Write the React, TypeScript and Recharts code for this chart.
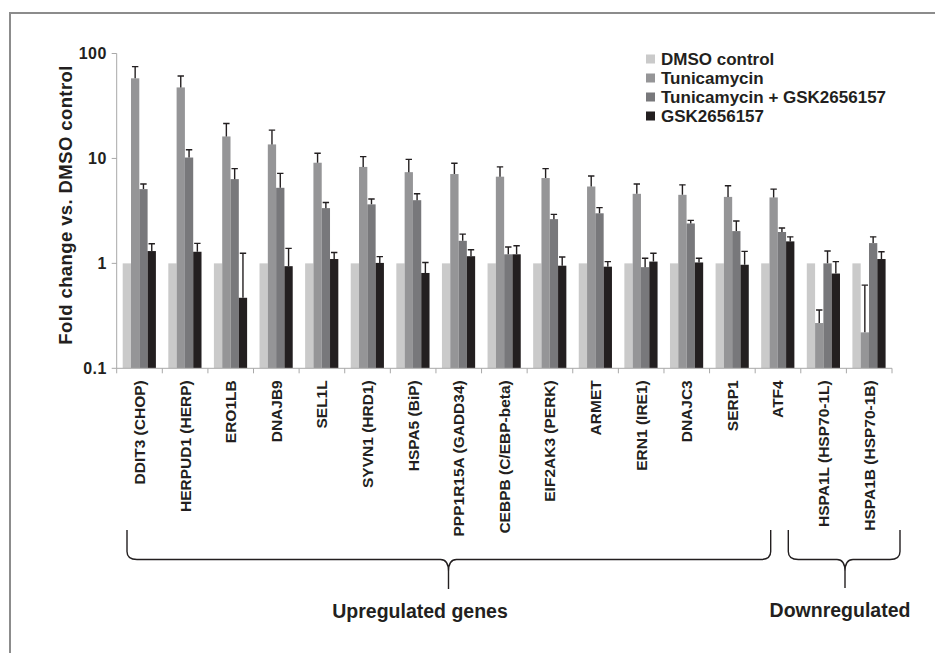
import React from "react";
import { BarChart, Bar, XAxis, YAxis, Customized } from "recharts";

const genes = [
  "DDIT3 (CHOP)",
  "HERPUD1 (HERP)",
  "ERO1LB",
  "DNAJB9",
  "SEL1L",
  "SYVN1 (HRD1)",
  "HSPA5 (BiP)",
  "PPP1R15A (GADD34)",
  "CEBPB (C/EBP-beta)",
  "EIF2AK3 (PERK)",
  "ARMET",
  "ERN1 (IRE1)",
  "DNAJC3",
  "SERP1",
  "ATF4",
  "HSPA1L (HSP70-1L)",
  "HSPA1B (HSP70-1B)",
];

const dmso = [1, 1, 1, 1, 1, 1, 1, 1, 1, 1, 1, 1, 1, 1, 1, 1, 1];
const tunicamycin = [58, 47.5, 16.2, 13.6, 9.1, 8.3, 7.4, 7.1, 6.7, 6.5, 5.4, 4.6, 4.5, 4.3, 4.25, 0.27, 0.22];
const tunicamycinTop = [75, 61, 21.5, 18.6, 11.2, 10.4, 9.8, 9.0, 8.3, 8.0, 6.8, 5.7, 5.6, 5.5, 5.1, 0.36, 0.62];
const tunGsk = [5.1, 10.2, 6.35, 5.25, 3.36, 3.65, 4.0, 1.64, 1.22, 2.64, 3.0, 0.92, 2.4, 2.03, 1.99, 1.0, 1.56];
const tunGskTop = [5.7, 12.1, 8.0, 7.2, 3.8, 4.1, 4.6, 1.9, 1.43, 2.93, 3.4, 1.12, 2.57, 2.53, 2.17, 1.31, 1.79];
const gsk = [1.31, 1.29, 0.47, 0.94, 1.1, 1.01, 0.81, 1.17, 1.22, 0.95, 0.93, 1.04, 1.02, 0.97, 1.62, 0.8, 1.1];
const gskTop = [1.54, 1.55, 1.25, 1.39, 1.27, 1.16, 1.02, 1.35, 1.47, 1.15, 1.04, 1.25, 1.12, 1.3, 1.79, 1.04, 1.29];

const yTicks = [0.1, 1, 10, 100];

const series = [
  { key: "dmso", err: null, name: "DMSO control", color: "#cacaca" },
  { key: "tun", err: "tunErr", name: "Tunicamycin", color: "#959597" },
  { key: "tunGsk", err: "tunGskErr", name: "Tunicamycin + GSK2656157", color: "#78787b" },
  { key: "gsk", err: "gskErr", name: "GSK2656157", color: "#231f20" },
];

const data = genes.map((name, i) => ({
  name,
  dmso: dmso[i],
  tun: tunicamycin[i],
  tunErr: tunicamycinTop[i],
  tunGsk: tunGsk[i],
  tunGskErr: tunGskTop[i],
  gsk: gsk[i],
  gskErr: gskTop[i],
}));

const FONT = "'Liberation Sans', Arial, Helvetica, sans-serif";
const INK = "#231f20";
const AXIS = "#a8a8a8";
const W = 935;
const H = 653;
const PLOT_LEFT = 116.7;
const PLOT_RIGHT = 892;
const PLOT_TOP = 53.5;
const PLOT_BOTTOM = 368.3;
const BAND = (PLOT_RIGHT - PLOT_LEFT) / genes.length;
const Y_MIN = 0.1;

// bar + upward-only error whisker (scale taken from the bar's own geometry)
const makeShape = (valKey: string, errKey: string | null, fill: string) => (props: any) => {
  const { x, y, width, height, payload } = props;
  const v = payload[valKey];
  const cx = x + width / 2;
  let err = null;
  if (errKey && payload[errKey] != null) {
    const k = height / Math.log10(v / Y_MIN);
    const ey = y - k * Math.log10(payload[errKey] / v);
    err = (
      <g stroke={INK} strokeWidth={1.4}>
        <line x1={cx} x2={cx} y1={y} y2={ey} />
        <line x1={cx - 3.2} x2={cx + 3.2} y1={ey} y2={ey} />
      </g>
    );
  }
  return (
    <g>
      <rect x={x} y={y} width={width} height={height} fill={fill} />
      {err}
    </g>
  );
};

const XTick = (props: any) => {
  const { x, y, payload, index } = props;
  const left = x - BAND / 2;
  return (
    <g>
      <line x1={left} x2={left} y1={y} y2={y + 5} stroke={AXIS} />
      {index === genes.length - 1 && (
        <line x1={x + BAND / 2} x2={x + BAND / 2} y1={y} y2={y + 5} stroke={AXIS} />
      )}
      <g transform={`translate(${x},${y})`}>
        <text
          transform="rotate(-90)"
          x={-12}
          y={0}
          textAnchor="end"
          dominantBaseline="central"
          fontFamily={FONT}
          fontWeight="bold"
          fontSize={15.5}
          fill={INK}
        >
          {payload.value}
        </text>
      </g>
    </g>
  );
};

const YTick = (props: any) => {
  const { x, y, payload } = props;
  return (
    <text
      x={x}
      y={y}
      textAnchor="end"
      dominantBaseline="central"
      fontFamily={FONT}
      fontWeight="bold"
      fontSize={16}
      letterSpacing={0.4}
      fill={INK}
    >
      {String(payload.value)}
    </text>
  );
};

const brace = (x1: number, x2: number, xm: number, yTop: number, yMid: number, yTip: number) =>
  `M ${x1} ${yTop} L ${x1} ${yMid - 8} Q ${x1} ${yMid} ${x1 + 10} ${yMid} L ${xm - 8} ${yMid} ` +
  `Q ${xm} ${yMid} ${xm} ${yMid + 12} L ${xm} ${yTip} M ${xm} ${yMid + 12} Q ${xm} ${yMid} ${xm + 8} ${yMid} ` +
  `L ${x2 - 10} ${yMid} Q ${x2} ${yMid} ${x2} ${yMid - 8} L ${x2} ${yTop}`;

const Decorations = () => (
  <g>
    <line x1={10} x2={W} y1={13} y2={13} stroke="#8c8c8c" strokeWidth={2} />
    <line x1={10} x2={10} y1={12} y2={H} stroke="#8c8c8c" strokeWidth={2} />
    <text
      transform={`translate(65,205) rotate(-90)`}
      textAnchor="middle"
      dominantBaseline="central"
      fontFamily={FONT}
      fontWeight="bold"
      fontSize={18.5}
      letterSpacing={0.4}
      fill={INK}
    >
      Fold change vs. DMSO control
    </text>
    {series.map((s, i) => (
      <g key={s.key}>
        <rect x={646} y={54.5 + i * 19} width={9} height={9} fill={s.color} />
        <text
          x={661}
          y={59 + i * 19}
          dominantBaseline="central"
          fontFamily={FONT}
          fontWeight="bold"
          fontSize={17}
          fill={INK}
        >
          {s.name}
        </text>
      </g>
    ))}
    <path d={brace(127, 770.7, 448.5, 530, 559.5, 589)} fill="none" stroke={INK} strokeWidth={1.4} />
    <path d={brace(788.3, 900, 845, 530, 559.5, 588)} fill="none" stroke={INK} strokeWidth={1.4} />
    <text x={420} y={618} textAnchor="middle" fontFamily={FONT} fontWeight="bold" fontSize={19.5} fill={INK}>
      Upregulated genes
    </text>
    <text x={840} y={617} textAnchor="middle" fontFamily={FONT} fontWeight="bold" fontSize={19.5} fill={INK}>
      Downregulated
    </text>
  </g>
);

export default function App() {
  return (
    <div style={{ position: "absolute", left: 0, top: 0, width: W, height: H, background: "#fff" }}>
      <BarChart
        width={W}
        height={H}
        data={data}
        margin={{ top: PLOT_TOP, right: W - PLOT_RIGHT, left: PLOT_LEFT - 60, bottom: H - PLOT_BOTTOM - 200 }}
        barSize={8.3}
        barGap={0}
      >
        <XAxis
          dataKey="name"
          type="category"
          interval={0}
          height={200}
          tickSize={0}
          tickMargin={0}
          tickLine={false}
          axisLine={{ stroke: AXIS }}
          tick={(p: any) => <XTick {...p} />}
        />
        <YAxis
          scale="log"
          domain={[0.1, 100]}
          ticks={yTicks}
          allowDataOverflow
          width={60}
          tickSize={5}
          tickMargin={5}
          axisLine={{ stroke: AXIS }}
          tickLine={{ stroke: AXIS }}
          tick={(p: any) => <YTick {...p} />}
        />
        {series.map((s) => (
          <Bar
            key={s.key}
            dataKey={s.key}
            name={s.name}
            fill={s.color}
            isAnimationActive={false}
            shape={makeShape(s.key, s.err, s.color)}
          />
        ))}
        <Customized component={Decorations} />
      </BarChart>
    </div>
  );
}
